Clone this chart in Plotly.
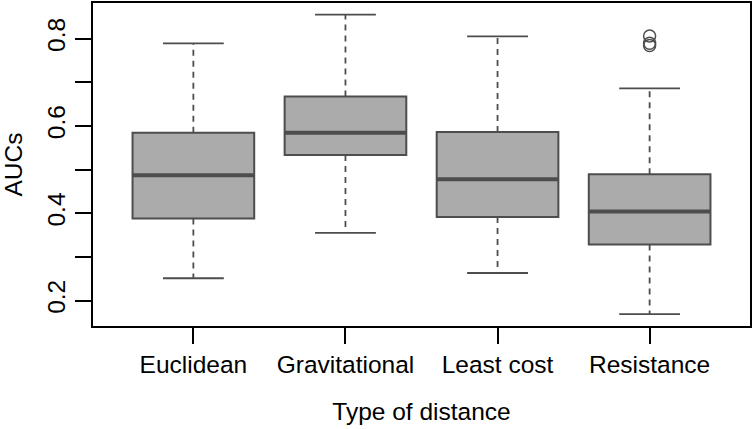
import plotly.graph_objects as go

categories = ["Euclidean", "Gravitational", "Least cost", "Resistance"]
lower_whisker = [0.251, 0.355, 0.263, 0.169]
q1 = [0.388, 0.533, 0.391, 0.328]
median = [0.487, 0.584, 0.478, 0.404]
q3 = [0.584, 0.667, 0.586, 0.489]
upper_whisker = [0.789, 0.855, 0.805, 0.686]
outlier_cat = ["Resistance", "Resistance", "Resistance"]
outlier_vals = [0.806, 0.789, 0.784]

y_ticks = [0.2, 0.3, 0.4, 0.5, 0.6, 0.7, 0.8]
y_ticktext = ["0.2", "", "0.4", "", "0.6", "", "0.8"]

pos = list(range(1, len(categories) + 1))
BOXW = 0.8
CAPW = 0.4
FILL = "#ABABAB"
EDGE = "#4D4D4D"
FONT = "Liberation Sans, Arial, Helvetica, sans-serif"
FS = 24.5

fig = go.Figure()

# whiskers (dashed)
wx, wy = [], []
for p, a, b, c, d in zip(pos, q1, q3, lower_whisker, upper_whisker):
    wx += [p, p, None, p, p, None]
    wy += [b, d, None, a, c, None]
fig.add_trace(go.Scatter(x=wx, y=wy, mode="lines", line=dict(color=EDGE, width=1.8, dash="6px,5px"),
                         hoverinfo="skip", showlegend=False))

# caps
cx, cy = [], []
for p, c, d in zip(pos, lower_whisker, upper_whisker):
    cx += [p - CAPW / 2, p + CAPW / 2, None, p - CAPW / 2, p + CAPW / 2, None]
    cy += [c, c, None, d, d, None]
fig.add_trace(go.Scatter(x=cx, y=cy, mode="lines", line=dict(color=EDGE, width=1.8),
                         hoverinfo="skip", showlegend=False))

# boxes
for p, a, m, b in zip(pos, q1, median, q3):
    fig.add_trace(go.Box(x=[p], q1=[a], median=[m], q3=[b], lowerfence=[a], upperfence=[b],
                         width=BOXW, fillcolor=FILL, line=dict(color=EDGE, width=2),
                         whiskerwidth=0, boxpoints=False, showlegend=False, hoverinfo="skip"))

# medians (thick)
mx, my = [], []
for p, m in zip(pos, median):
    mx += [p - BOXW / 2, p + BOXW / 2, None]
    my += [m, m, None]
fig.add_trace(go.Scatter(x=mx, y=my, mode="lines", line=dict(color=EDGE, width=4),
                         hoverinfo="skip", showlegend=False))

# outliers
ox = [pos[categories.index(c)] for c in outlier_cat]
fig.add_trace(go.Scatter(x=ox, y=outlier_vals, mode="markers",
                         marker=dict(symbol="circle-open", size=12, color=EDGE, line=dict(width=1.5)),
                         hoverinfo="skip", showlegend=False))

fig.update_layout(
    width=754, height=429,
    margin=dict(l=93, r=4, t=3, b=103),
    paper_bgcolor="white", plot_bgcolor="white",
    font=dict(family=FONT, size=FS, color="black"),
    showlegend=False,
    xaxis=dict(range=[0.34, 4.66], tickvals=pos, ticktext=categories, automargin=False,
               tickfont=dict(size=FS), ticks="outside", ticklen=16, tickwidth=1.5, tickcolor="black",
               showgrid=False, zeroline=False, showline=True, mirror=True,
               linecolor="black", linewidth=1.5,
               title=dict(text="Type of distance", font=dict(size=FS), standoff=26)),
    yaxis=dict(range=[0.1416, 0.8814], tickvals=y_ticks, ticktext=y_ticktext, tickangle=-90,
               automargin=False, tickfont=dict(size=FS),
               ticks="outside", ticklen=16, tickwidth=1.5, tickcolor="black",
               showgrid=False, zeroline=False, showline=True, mirror=True,
               linecolor="black", linewidth=1.5,
               title=dict(text="AUCs", font=dict(size=FS), standoff=14)),
)

fig.write_html("out.html", config={"displayModeBar": False},
               post_script="document.body.style.margin='0';document.body.style.padding='0';")
